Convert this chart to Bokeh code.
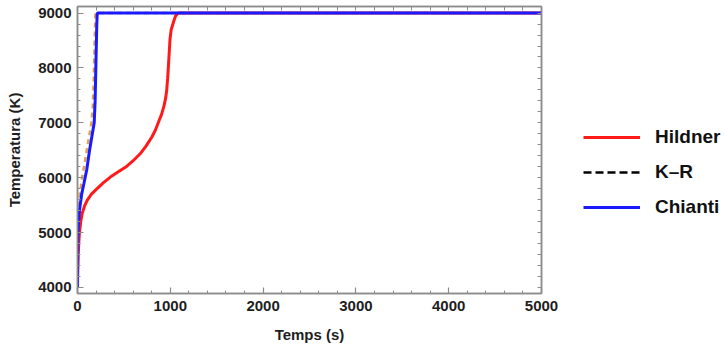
from bokeh.plotting import figure
from bokeh.layouts import row
from bokeh.models import Range1d, LinearAxis, Legend, LegendItem, FixedTicker
from bokeh.embed import file_html
from bokeh.resources import INLINE

# ---- data ----
hildner_t = [0, 3, 8, 15, 21, 35, 50, 75, 104, 150, 211, 280, 354, 440, 532, 600, 675, 740,
             800, 840, 872, 905, 932, 950, 961, 971, 979, 988, 997, 1010, 1033, 1055, 1080, 5000]
hildner_T = [4000, 4300, 4600, 4850, 5000, 5200, 5345, 5480, 5587, 5700, 5800, 5910, 6011,
             6110, 6211, 6310, 6436, 6580, 6738, 6870, 7011, 7150, 7309, 7450, 7587, 7800,
             8011, 8270, 8527, 8700, 8829, 8940, 9000, 9000]

kr_t = [0, 2, 5, 12, 25, 45, 70, 100, 130, 150, 165, 175, 185, 193, 5000]
kr_T = [4000, 4800, 5100, 5400, 5700, 5950, 6200, 6500, 6800, 7000, 7300, 7800, 8500, 9000, 9000]

chianti_t = [0, 2, 5, 12, 25, 45, 70, 100, 130, 160, 180, 190, 200, 208, 213, 5000]
chianti_T = [4000, 4800, 5000, 5200, 5450, 5700, 5900, 6150, 6500, 6800, 7000, 7400, 8200,
             8800, 9000, 9000]

series_names = ["Hildner", "K\u2013R", "Chianti"]
x_label = "Temps (s)"
y_label = "Temperatura (K)"
x_ticks = [0, 1000, 2000, 3000, 4000, 5000]
y_ticks = [4000, 5000, 6000, 7000, 8000, 9000]

FONT = "Liberation Sans"
GRAY = "#8c8c8c"
RED = "#ff1a1a"
BLUE = "#1a1aff"

MAIN_W = 565

p = figure(width=MAIN_W, height=350, output_backend="svg", toolbar_location=None,
           x_range=Range1d(0, 5000), y_range=Range1d(3890, 9120),
           min_border_left=77, min_border_right=MAIN_W - 541, min_border_top=6,
           min_border_bottom=57)
p.background_fill_color = "white"
p.border_fill_color = "white"
p.outline_line_color = GRAY
p.outline_line_width = 1.5
p.xgrid.visible = False
p.ygrid.visible = False


def minor_positions(ticks, n=5):
    step = (ticks[1] - ticks[0]) / n
    out = []
    for a in ticks[:-1]:
        for k in range(n):
            out.append(a + k * step)
    out.append(ticks[-1])
    return out


def style_lines(ax):
    ax.axis_line_color = GRAY
    ax.axis_line_width = 1.5
    ax.major_tick_line_color = GRAY
    ax.minor_tick_line_color = GRAY
    ax.major_tick_in = 6
    ax.major_tick_out = 0
    ax.minor_tick_in = 3
    ax.minor_tick_out = 0
    ax.major_tick_line_width = 1.2
    ax.minor_tick_line_width = 1.0


for ax in (p.xaxis[0], p.yaxis[0]):
    style_lines(ax)
    ax.major_label_text_font = FONT
    ax.major_label_text_font_style = "bold"
    ax.major_label_text_font_size = "15px"
    ax.major_label_text_color = "#1e1e1e"
    ax.axis_label_text_font = FONT
    ax.axis_label_text_font_style = "bold"
    ax.axis_label_text_font_size = "15px"
    ax.axis_label_text_color = "#1e1e1e"

p.xaxis.ticker = FixedTicker(ticks=x_ticks, minor_ticks=minor_positions(x_ticks))
p.yaxis.ticker = FixedTicker(ticks=y_ticks, minor_ticks=minor_positions(y_ticks))
p.xaxis.axis_label = x_label
p.yaxis.axis_label = y_label
p.xaxis.major_label_standoff = 7
p.xaxis.axis_label_standoff = 12
p.yaxis.major_label_standoff = 6
p.yaxis.axis_label_standoff = 12

# frame ticks on top and right (no labels)
top = LinearAxis(ticker=FixedTicker(ticks=[], minor_ticks=minor_positions(x_ticks)))
right = LinearAxis(ticker=FixedTicker(ticks=[], minor_ticks=minor_positions(y_ticks)))
for ax in (top, right):
    style_lines(ax)
    ax.minor_tick_in = 4
p.add_layout(top, "above")
p.add_layout(right, "right")

p.line(kr_t, kr_T, line_color="#e0a050", line_width=2.5, line_dash="5 4")
p.line(hildner_t, hildner_T, line_color=RED, line_width=3)
p.line(chianti_t, chianti_T, line_color=BLUE, line_width=3)

# ---- legend panel (separate figure to the right) ----
nan = float("nan")
q = figure(width=724 - MAIN_W, height=350, output_backend="svg", toolbar_location=None,
           x_range=Range1d(0, 1), y_range=Range1d(0, 1),
           min_border_left=0, min_border_right=0, min_border_top=0, min_border_bottom=0)
q.axis.visible = False
q.xgrid.visible = False
q.ygrid.visible = False
q.outline_line_color = None
q.background_fill_color = "white"
q.border_fill_color = "white"

l_h = q.line([nan], [nan], line_color=RED, line_width=3)
l_kr = q.line([nan], [nan], line_color="black", line_width=2.5, line_dash="8 4")
l_c = q.line([nan], [nan], line_color=BLUE, line_width=3)

legend = Legend(items=[LegendItem(label=series_names[0], renderers=[l_h]),
                       LegendItem(label=series_names[1], renderers=[l_kr]),
                       LegendItem(label=series_names[2], renderers=[l_c])],
                location=(583 - MAIN_W, 75))
legend.background_fill_alpha = 0
legend.border_line_alpha = 0
legend.padding = 0
legend.margin = 0
legend.spacing = 13
legend.glyph_width = 57
legend.glyph_height = 20
legend.label_height = 20
legend.label_standoff = 15
legend.label_text_font = FONT
legend.label_text_font_style = "bold"
legend.label_text_font_size = "19px"
legend.label_text_color = "#111111"
q.add_layout(legend, "center")

layout = row(p, q, spacing=0)
open("out.html", "w").write(file_html(layout, INLINE))
